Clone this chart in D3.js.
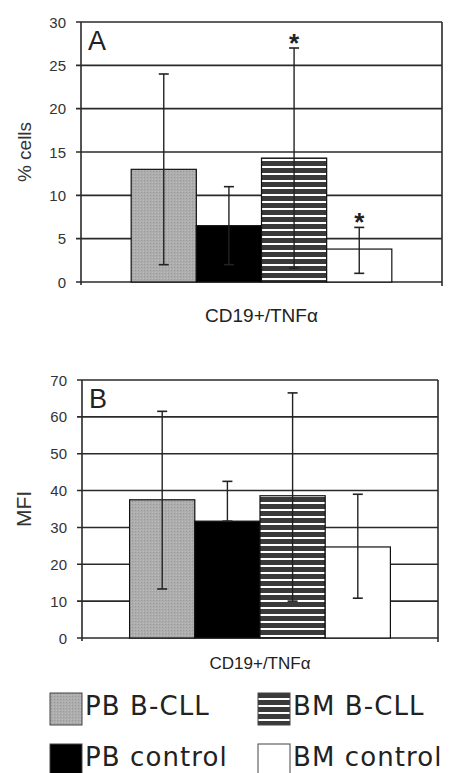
<!DOCTYPE html>
<html>
<head>
<meta charset="utf-8">
<script src="https://cdn.jsdelivr.net/npm/d3@7"></script>
<style>
  body { margin: 0; background: #fff; }
  svg { display: block; }
</style>
</head>
<body>
<svg id="chart" width="456" height="773"></svg>
<script>
// groups, in draw order
const series = ['PB B-CLL', 'PB control', 'BM B-CLL', 'BM control'];

// panel A: % cells
const pctMean = [13, 6.5, 14.3, 3.8];
const pctLow = [2, 2, 1.6, 1];
const pctHigh = [24, 11, 27, 6.3];
const pctStars = ['', '', '*', '*'];
const pctTicks = [0, 5, 10, 15, 20, 25, 30];

// panel B: MFI
const mfiMean = [37.5, 31.7, 38.6, 24.7];
const mfiLow = [13.3, 31.7, 10, 10.8];
const mfiHigh = [61.5, 42.5, 66.5, 39];
const mfiStars = ['', '', '', ''];
const mfiTicks = [0, 10, 20, 30, 40, 50, 60, 70];

const xLabel = 'CD19+/TNF\u03b1';

const svg = d3.select('#chart');
const defs = svg.append('defs');

// stippled grey
const dots = defs.append('pattern')
  .attr('id', 'grey')
  .attr('width', 3).attr('height', 3)
  .attr('patternUnits', 'userSpaceOnUse');
dots.append('rect').attr('width', 3).attr('height', 3).attr('fill', '#adadad');
dots.append('rect').attr('width', 1).attr('height', 1).attr('fill', '#9a9a9a');
dots.append('rect').attr('x', 2).attr('y', 2).attr('width', 1).attr('height', 1).attr('fill', '#bdbdbd');

// horizontal stripes
const stripes = defs.append('pattern')
  .attr('id', 'stripes')
  .attr('width', 7).attr('height', 7)
  .attr('patternUnits', 'userSpaceOnUse');
stripes.append('rect').attr('width', 7).attr('height', 7).attr('fill', '#fff');
stripes.append('rect').attr('width', 7).attr('height', 5).attr('fill', '#3a3a3a');

const fills = ['url(#grey)', '#000', 'url(#stripes)', '#fff'];

function drawPanel(opts) {
  const { left, top, right, bottom, max, ticks, mean, low, high, stars, letter, yLabel, yLabelSize, xLabelY, xLabelSize, outer } = opts;
  const g = svg.append('g');

  const x = d3.scaleBand()
    .domain(series)
    .range([left, right])
    .paddingInner(0)
    .paddingOuter(outer);
  const y = d3.scaleLinear()
    .domain([0, max])
    .range([bottom, top]);

  // gridlines with outward tick marks
  g.selectAll('.grid')
    .data(ticks)
    .enter().append('line')
    .attr('x1', left - 5)
    .attr('x2', right)
    .attr('y1', (d) => y(d))
    .attr('y2', (d) => y(d))
    .attr('stroke', '#2a2a2a')
    .attr('stroke-width', 1.6);

  // tick labels
  g.selectAll('.tick')
    .data(ticks)
    .enter().append('text')
    .attr('x', left - 15)
    .attr('y', (d) => y(d) + 5.5)
    .attr('text-anchor', 'end')
    .attr('font-family', 'Liberation Sans, Arial, sans-serif')
    .attr('font-size', 15)
    .attr('fill', '#333')
    .text((d) => d);

  // frame
  g.append('line')
    .attr('x1', left).attr('x2', left)
    .attr('y1', top).attr('y2', bottom + 3)
    .attr('stroke', '#2a2a2a').attr('stroke-width', 1.6);
  g.append('line')
    .attr('x1', right).attr('x2', right)
    .attr('y1', top).attr('y2', bottom + 4)
    .attr('stroke', '#2a2a2a').attr('stroke-width', 1.6);

  // bars
  g.selectAll('.bar')
    .data(series)
    .enter().append('rect')
    .attr('x', (d) => x(d))
    .attr('y', (d, i) => y(mean[i]))
    .attr('width', x.bandwidth())
    .attr('height', (d, i) => bottom - y(mean[i]))
    .attr('fill', (d, i) => fills[i])
    .attr('stroke', '#111')
    .attr('stroke-width', 1.2);

  // error bars
  const cx = (d) => x(d) + x.bandwidth() / 2;
  g.selectAll('.err')
    .data(series)
    .enter().append('line')
    .attr('x1', cx).attr('x2', cx)
    .attr('y1', (d, i) => y(low[i]))
    .attr('y2', (d, i) => y(high[i]))
    .attr('stroke', '#222').attr('stroke-width', 1.4);
  [high, low].forEach((arr) => {
    g.selectAll(null)
      .data(series)
      .enter().append('line')
      .attr('x1', (d) => cx(d) - 5).attr('x2', (d) => cx(d) + 5)
      .attr('y1', (d, i) => y(arr[i]))
      .attr('y2', (d, i) => y(arr[i]))
      .attr('stroke', '#222').attr('stroke-width', 1.6);
  });

  // significance stars
  g.selectAll('.star')
    .data(series)
    .enter().append('text')
    .attr('x', cx)
    .attr('y', (d, i) => y(high[i]) + 4)
    .attr('text-anchor', 'middle')
    .attr('font-family', 'Liberation Sans, Arial, sans-serif')
    .attr('font-weight', 'bold')
    .attr('font-size', 26)
    .attr('fill', '#222')
    .text((d, i) => stars[i]);

  // panel letter
  g.append('text')
    .attr('x', left + 7)
    .attr('y', top + 28)
    .attr('font-family', 'Liberation Sans, Arial, sans-serif')
    .attr('font-size', 27)
    .attr('fill', '#222')
    .text(letter);

  // y label
  g.append('text')
    .attr('transform', `translate(31, ${(top + bottom) / 2}) rotate(-90)`)
    .attr('text-anchor', 'middle')
    .attr('font-family', 'Liberation Sans, Arial, sans-serif')
    .attr('font-size', yLabelSize)
    .attr('fill', '#333')
    .text(yLabel);

  // x label
  g.append('text')
    .attr('x', (x(series[0]) + x(series[3]) + x.bandwidth()) / 2)
    .attr('y', xLabelY)
    .attr('text-anchor', 'middle')
    .attr('font-family', 'Liberation Sans, Arial, sans-serif')
    .attr('font-size', xLabelSize)
    .attr('fill', '#222')
    .text(xLabel);
}

drawPanel({
  left: 81, top: 22, right: 442, bottom: 282, max: 30,
  ticks: pctTicks, mean: pctMean, low: pctLow, high: pctHigh, stars: pctStars,
  letter: 'A', yLabel: '% cells', yLabelSize: 19, xLabelY: 322, xLabelSize: 19, outer: 0.77,
});

drawPanel({
  left: 82, top: 380, right: 438, bottom: 638, max: 70,
  ticks: mfiTicks, mean: mfiMean, low: mfiLow, high: mfiHigh, stars: mfiStars,
  letter: 'B', yLabel: 'MFI', yLabelSize: 21, xLabelY: 669, xLabelSize: 17, outer: 0.73,
});

// legend, two rows of two
const legend = svg.append('g');
const legX = [50, 258];
const legY = [693, 744];
series.forEach((s, i) => {
  const col = i < 2 ? 0 : 1;
  const row = i % 2;
  legend.append('rect')
    .attr('x', legX[col]).attr('y', legY[row])
    .attr('width', 32).attr('height', 32)
    .attr('fill', fills[i])
    .attr('stroke', '#444').attr('stroke-width', 1);
  legend.append('text')
    .attr('x', legX[col] + 35)
    .attr('y', legY[row] + 22)
    .attr('font-family', 'DejaVu Sans, Verdana, sans-serif')
    .attr('font-size', 26)
    .attr('letter-spacing', 1.1)
    .attr('fill', '#222')
    .text(s);
});
</script>
</body>
</html>
